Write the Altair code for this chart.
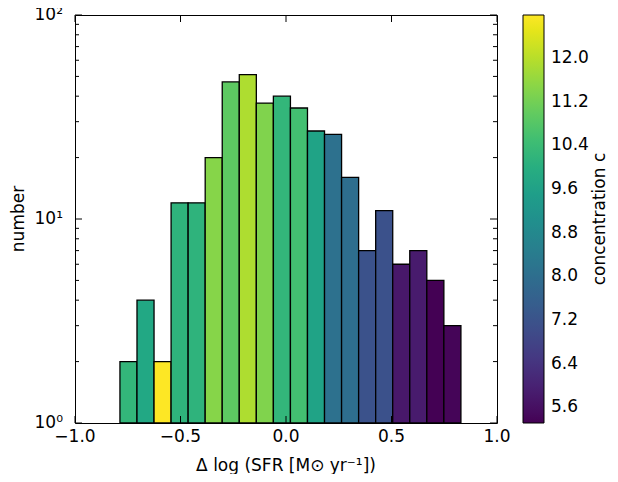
import altair as alt
import numpy as np
import pandas as pd

# ---- data ----
counts = [2, 4, 2, 12, 12, 20, 47, 51, 37, 40, 35, 27, 26, 16, 7, 11, 6, 7, 5, 3]
concentration = [10.25, 9.8, 12.79, 10.17, 10.17, 11.44, 10.92, 11.89, 11.37, 10.25,
                 10.55, 9.65, 8.08, 8.0, 7.18, 7.15, 5.76, 5.83, 5.31, 5.38]
bin_min, bin_max = -0.787, 0.829
x_ticks = [-1.0, -0.5, 0.0, 0.5, 1.0]
y_major = [1, 10, 100]
y_labels = ["10\u2070", "10\u00b9", "10\u00b2"]
y_minor = [2, 3, 4, 5, 6, 7, 8, 9, 20, 30, 40, 50, 60, 70, 80, 90]
cbar_ticks = [5.6, 6.4, 7.2, 8.0, 8.8, 9.6, 10.4, 11.2, 12.0]
c_domain = [5.31, 12.79]
x_title = "Δ log (SFR [M\u2299 yr\u207b\u00b9])"
y_title = "number"
c_title = "concentration c"

edges = np.linspace(bin_min, bin_max, len(counts) + 1)
df = pd.DataFrame({
    "lo": edges[:-1],
    "hi": edges[1:],
    "count": counts,
    "base": [1] * len(counts),
    "conc": concentration,
})

W, H = 422, 408
FONT = "DejaVu Sans"
FS = 17
MAJ, MIN = 7, 4

x_scale = alt.Scale(domain=[-1, 1], nice=False, zero=False)
y_scale = alt.Scale(type="log", domain=[1, 100], nice=False)

bars = alt.Chart(df).mark_rect(stroke="black", strokeWidth=1.3).encode(
    x=alt.X("lo:Q", scale=x_scale, axis=None),
    x2="hi:Q",
    y=alt.Y("count:Q", scale=y_scale, axis=None),
    y2="base:Q",
    color=alt.Color("conc:Q", scale=alt.Scale(scheme="viridis", domain=c_domain),
                    legend=alt.Legend(orient="none", legendX=448, legendY=0,
                                      direction="vertical", gradientLength=H,
                                      gradientThickness=21, gradientStrokeColor="black",
                                      gradientStrokeWidth=1, values=cbar_ticks,
                                      format=".1f", labelFont=FONT, labelFontSize=FS,
                                      labelColor="black", labelOffset=7,
                                      labelOverlap=False, title=None, padding=0)),
)

xt_df = pd.DataFrame({"v": x_ticks})
ymaj_df = pd.DataFrame({"v": y_major, "lab": y_labels})
ymin_df = pd.DataFrame({"v": y_minor})

def xrule(y0, y1):
    return alt.Chart(xt_df).mark_rule(color="black", strokeWidth=1).encode(
        x=alt.X("v:Q", scale=x_scale, axis=None),
        y=alt.value(y0), y2=alt.value(y1))

def yrule(d, x0, x1):
    return alt.Chart(d).mark_rule(color="black", strokeWidth=1).encode(
        y=alt.Y("v:Q", scale=y_scale, axis=None),
        x=alt.value(x0), x2=alt.value(x1))

# tick labels (drawn from the tick arrays through the scales)
x_labels = alt.Chart(xt_df).mark_text(
    font=FONT, fontSize=FS, align="center", baseline="top", color="black"
).encode(x=alt.X("v:Q", scale=x_scale, axis=None), y=alt.value(H + 6),
         text=alt.Text("v:Q", format=".1f"))

y_lab = alt.Chart(ymaj_df).mark_text(
    font=FONT, fontSize=FS, align="right", baseline="middle", color="black"
).encode(y=alt.Y("v:Q", scale=y_scale, axis=None), x=alt.value(-12), text="lab:N")

def title_text(txt, x, y, angle=0):
    kw = dict(font=FONT, fontSize=FS, align="center", baseline="middle", color="black")
    if angle:
        kw["angle"] = angle
    return alt.Chart(pd.DataFrame({"t": [txt]})).mark_text(**kw).encode(
        text="t:N", x=alt.value(x), y=alt.value(y))

chart = alt.layer(
    bars,
    xrule(H, H - MAJ), xrule(0, MAJ),
    yrule(ymaj_df, 0, MAJ), yrule(ymaj_df, W - MAJ, W),
    yrule(ymin_df, 0, MIN), yrule(ymin_df, W - MIN, W),
    x_labels, y_lab,
    title_text(x_title, W / 2, H + 43),
    title_text(y_title, -56, H / 2, 270),
    title_text(c_title, 525, H / 2, 270),
).properties(
    width=W, height=H,
    padding={"left": 67, "top": 7, "right": 113, "bottom": 51},
    autosize=alt.AutoSizeParams(type="none"),
).configure_view(stroke="black", strokeWidth=1)

chart.save("out.html", embed_options={"renderer": "svg", "actions": False})
